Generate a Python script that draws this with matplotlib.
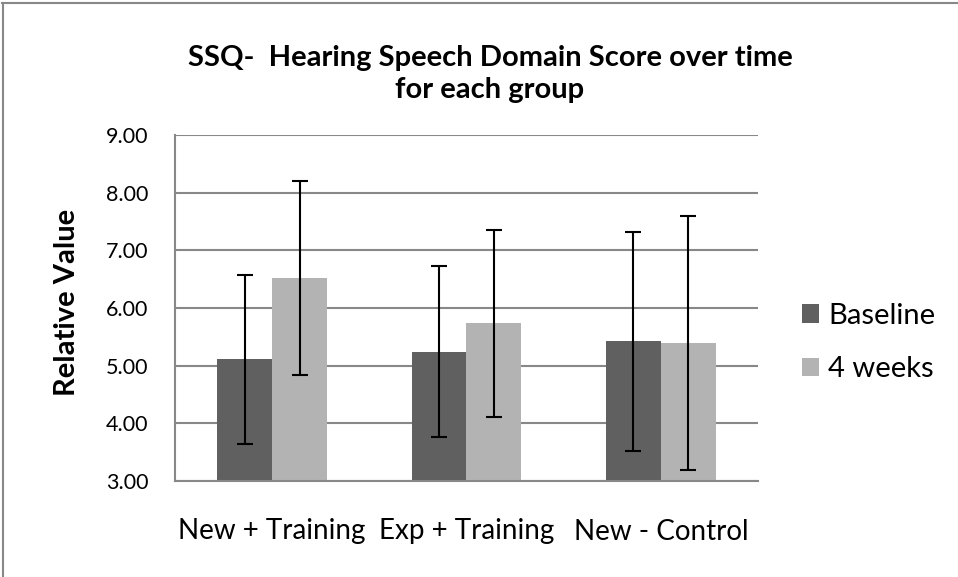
import matplotlib.pyplot as plt
import numpy as np
from matplotlib.lines import Line2D

groups = ['New + Training', 'Exp + Training', 'New - Control']
series = ['Baseline', '4 weeks']
baseline = [5.11, 5.24, 5.42]
weeks4 = [6.52, 5.735, 5.39]
baseline_err = [1.46, 1.48, 1.90]
weeks4_err = [1.68, 1.62, 2.20]
colors = ['#606060', '#b3b3b3']

plt.rcParams['font.family'] = ['Lato', 'DejaVu Sans']

fig = plt.figure(figsize=(9.58, 5.77), dpi=100)
ax = fig.add_axes([175 / 958, 96 / 577, 583 / 958, 346 / 577])

x = np.arange(len(groups))
w = 0.283
for i, (vals, errs) in enumerate([(baseline, baseline_err), (weeks4, weeks4_err)]):
    pos = x + (i - 0.5) * w
    ax.bar(pos, vals, width=w, color=colors[i], label=series[i], zorder=2)
    ax.errorbar(pos, vals, yerr=errs, fmt='none', ecolor='black',
                elinewidth=1.5, capsize=6, capthick=1.5, zorder=3)

ax.set_xlim(-0.5, 2.5)
ax.set_ylim(3, 9)
ticks = np.arange(3, 9.01, 1)
ax.set_yticks(ticks)
ax.set_yticklabels([f'{v:.2f}' for v in ticks], fontsize=15.5)
ax.set_xticks(x)
ax.set_xticklabels(groups, fontsize=20)
ax.tick_params(axis='y', length=0, pad=19)
ax.tick_params(axis='x', length=0, pad=27)
ax.yaxis.grid(True, color='#888888', linewidth=1.5, zorder=0)
ax.set_axisbelow(True)
for s in ['top', 'right']:
    ax.spines[s].set_visible(False)
for s in ['left', 'bottom']:
    ax.spines[s].set_color('#888888')
    ax.spines[s].set_linewidth(1.5)

ax.set_ylabel('Relative Value', fontsize=21, fontweight='bold')
ax.yaxis.set_label_coords(-0.163, 0.517)
fig.suptitle('SSQ-  Hearing Speech Domain Score over time\nfor each group',
             x=490 / 958, y=1 - 45 / 577, fontsize=21, fontweight='bold',
             linespacing=1.3, va='top')

ax.legend(loc='center left', bbox_to_anchor=(1.075, 0.40), frameon=False,
          fontsize=21, handlelength=0.6, handleheight=0.6, handletextpad=0.3,
          labelspacing=0.95, borderaxespad=0, borderpad=0)

fig.add_artist(Line2D([2 / 958, 1], [1 - 3 / 577] * 2, color='#888888',
                      linewidth=1.5, transform=fig.transFigure))
fig.add_artist(Line2D([2.5 / 958] * 2, [0, 1 - 3 / 577], color='#888888',
                      linewidth=1.5, transform=fig.transFigure))

fig.savefig('out.png', dpi=100)
